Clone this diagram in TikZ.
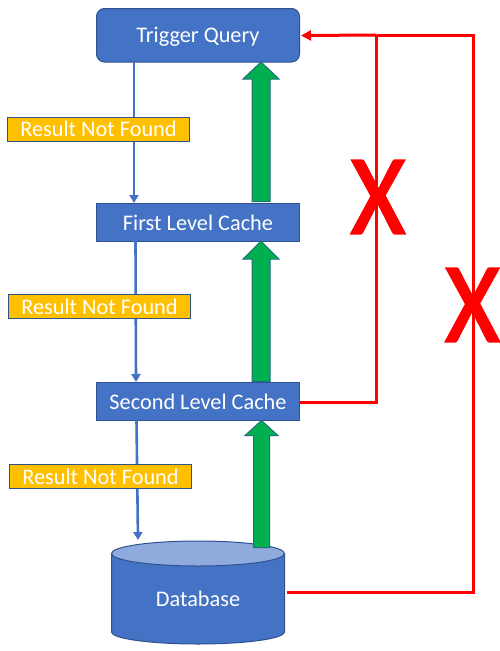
\documentclass[tikz,border=0pt]{standalone}
\usepackage{fontspec}
\setmainfont{Carlito}
\newfontfamily\xfont[RawFeature={embolden=2}]{Carlito}
\usetikzlibrary{arrows.meta}
\definecolor{boxblue}{HTML}{4472C4}
\definecolor{edgeblue}{HTML}{2F528F}
\definecolor{gold}{HTML}{FFC000}
\definecolor{okgreen}{HTML}{00B050}
\definecolor{dbtop}{HTML}{8FAADC}
\definecolor{lineblue}{HTML}{4472C4}
\newcommand{\greenarrow}[6]{% cx, tip, headbase, bottom, halfshaft, halfhead
  \draw[garrow] (#1,#2) -- (#1+#6,#3) -- (#1+#5,#3) -- (#1+#5,#4) -- (#1-#5,#4) -- (#1-#5,#3) -- (#1-#6,#3) -- cycle;}
\tikzset{
  x=1pt,y=-1pt,
  every node/.style={inner sep=0pt,outer sep=0pt},
  cachebox/.style={draw=edgeblue,fill=boxblue,line width=1pt,minimum width=203pt,text=white,font=\fontsize{22.3}{26}\selectfont},
  notfound/.style={draw=edgeblue,fill=gold,line width=1pt,minimum width=182pt,minimum height=23.5pt,text=white,font=\fontsize{22.3}{26}\selectfont},
  downline/.style={draw=lineblue,line width=2.6pt,-{Triangle[length=8pt,width=9pt]}},
  redline/.style={draw=red,line width=3pt},
  garrow/.style={draw=edgeblue!70!okgreen,fill=okgreen,line width=1pt,line join=miter},
  bigx/.style={text=red,font=\xfont\fontsize{114}{120}\selectfont,xscale=0.92},
}
\begin{document}
\begin{tikzpicture}
\useasboundingbox (0,0) rectangle (500,651);
% database
\draw[draw=edgeblue,fill=boxblue,line width=1pt] (111.5,553.5) -- (111.5,632) arc[start angle=180,end angle=360,x radius=86.5pt,y radius=12pt] -- (284.5,553.5) -- cycle;
\draw[draw=edgeblue,fill=dbtop,line width=1pt] (198,553.5) ellipse[x radius=86.5pt,y radius=12.5pt];
\node[minimum width=173pt,minimum height=103pt] (db) at (198,592.5) {};
\node[text=white,font=\fontsize{22.3}{26}\selectfont] (dbtext) at (198,599) {Database};
% boxes
\node[cachebox,rounded corners=8pt,minimum height=53.5pt,text depth=0pt,text height=14pt] (tq) at (198,35.25) {Trigger Query};
\node[cachebox,minimum height=38pt] (flc) at (198,222.5) {First Level Cache};
\node[cachebox,minimum height=38pt] (slc) at (198,401.5) {Second Level Cache};
% named ends of the slightly slanted blue connectors
\coordinate (a1) at (134,62);
\coordinate (b1) at (134,203);
\coordinate (a2) at (135.5,241);
\coordinate (b2) at (136,382);
\coordinate (a3) at (136.5,420);
\coordinate (b3) at (138,540);
\draw[downline] (a1) -- (b1);
\draw[downline] (a2) -- (b2);
\draw[downline] (a3) -- (b3);
% labels
\node[notfound] (nf1) at (98.5,129.25) {Result Not Found};
\node[notfound] (nf2) at (99.5,306.5) {Result Not Found};
\node[notfound] (nf3) at (100.5,476.5) {Result Not Found};
% green arrows
\greenarrow{261}{62}{79}{201.5}{9}{18}
\greenarrow{261}{241}{259}{381.5}{9}{18}
\greenarrow{261.5}{420.5}{435.5}{547.5}{8}{16.5}
% red connectors
\coordinate (c1) at (376.7,35);
\coordinate (c2) at (473.5,35);
\coordinate (s1) at (376.7,402);
\coordinate (s2) at (473.5,592.5);
\coordinate (dbout) at ([xshift=2.5pt]db.east);
\coordinate (tqin) at ([xshift=1.5pt,yshift=-0.25pt]tq.east);
\draw[redline,line join=miter] (slc.east |- s1) -- (s1) -- (c1);
\draw[redline,line join=miter] (dbout) -- (s2) -- (c2) -- (c1);
\draw[redline,-{Triangle[length=10pt,width=10pt]}] (c1) -- (tqin);
% crosses
\node[bigx] (x1) at (378,197) {X};
\node[bigx] (x2) at (472.5,305) {X};
\end{tikzpicture}
\end{document}
